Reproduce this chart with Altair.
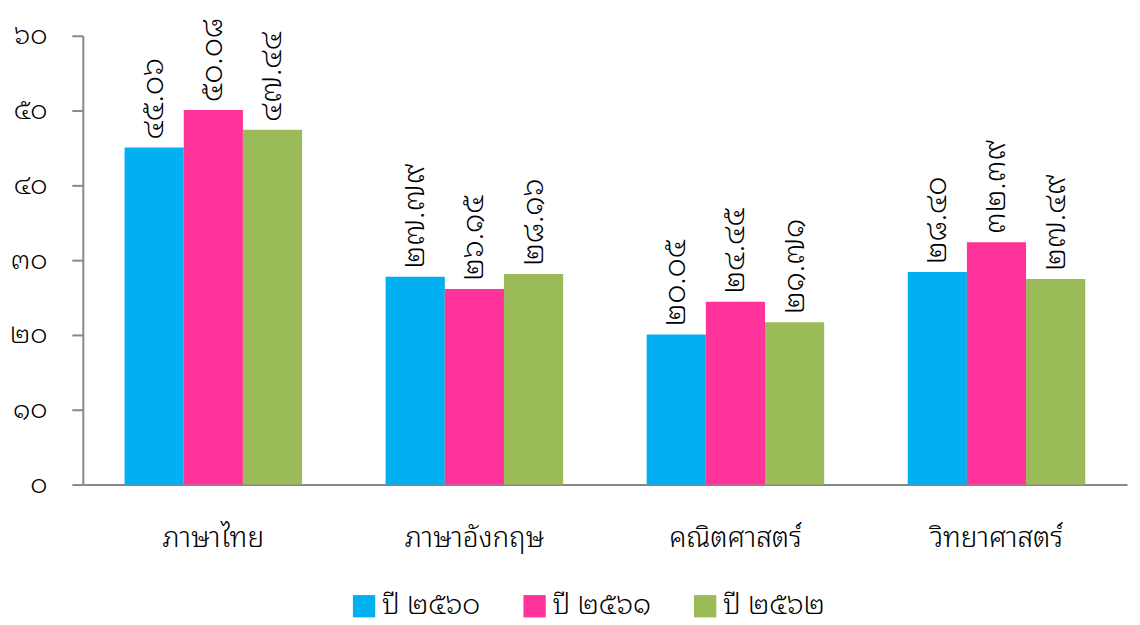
import altair as alt
import pandas as pd

subjects = ["ภาษาไทย", "ภาษาอังกฤษ", "คณิตศาสตร์", "วิทยาศาสตร์"]
years = ["ปี ๒๕๖๐", "ปี ๒๕๖๑", "ปี ๒๕๖๒"]
y2560 = [45.06, 27.79, 20.05, 28.40]
y2561 = [50.08, 26.15, 24.45, 32.39]
y2562 = [47.44, 28.16, 21.71, 27.49]
colors = ["#00B0F0", "#FF3399", "#9BBB59"]

thai_digits = str.maketrans("0123456789", "๐๑๒๓๔๕๖๗๘๙")

rows = []
for yr, vals in zip(years, [y2560, y2561, y2562]):
    for s, v in zip(subjects, vals):
        rows.append({"subject": s, "year": yr, "value": v,
                     "label": f"{v:.2f}".translate(thai_digits)})
df = pd.DataFrame(rows)

FONT = "Noto Sans Thai Looped, Noto Sans Thai, Loma, Garuda, Noto Sans"
thai_expr = "datum.label"
for d, t in zip("0123456789", "๐๑๒๓๔๕๖๗๘๙"):
    thai_expr = f"replace({thai_expr}, regexp('{d}', 'g'), '{t}')"

base = alt.Chart(df).encode(
    x=alt.X("subject:N", sort=subjects, title=None,
            scale=alt.Scale(paddingInner=0.32, paddingOuter=0.16),
            axis=alt.Axis(labelAngle=0, labelFontSize=28, labelFont=FONT,
                          labelFontWeight=300,
                          labelColor="#000", labelPadding=40, ticks=False,
                          domainColor="#888", domainWidth=2)),
    xOffset=alt.XOffset("year:N", sort=years),
    y=alt.Y("value:Q", title=None,
            scale=alt.Scale(domain=[0, 60]),
            axis=alt.Axis(values=[0, 10, 20, 30, 40, 50, 60], grid=False,
                          labelExpr=thai_expr, labelFontSize=27,
                          labelFont=FONT, labelColor="#000",
                          labelFontWeight=300,
                          tickSize=11, tickColor="#888", tickWidth=2,
                          domainColor="#888", domainWidth=2,
                          labelPadding=25)),
)

bars = base.mark_bar().encode(
    color=alt.Color("year:N", sort=years, title=None,
                    scale=alt.Scale(domain=years, range=colors),
                    legend=alt.Legend(orient="none", direction="horizontal",
                                      legendX=268, legendY=558,
                                      symbolType="square", symbolSize=500,
                                      symbolStrokeWidth=0,
                                      labelFontSize=28, labelFont=FONT,
                                      labelFontWeight=300,
                                      labelColor="#000", columnPadding=40))
)

labels = base.mark_text(angle=270, align="left", baseline="middle", dx=8,
                        fontSize=30, font=FONT, fontWeight=300,
                        color="#000").encode(
    text="label:N")

chart = (bars + labels).properties(
    width=1047, height=450,
    padding={"left": 75, "top": 27, "right": 5, "bottom": 140},
    autosize=alt.AutoSizeParams(type="none"),
).configure_view(stroke=None)

chart.save("out.html", embed_options={"renderer": "svg", "actions": False})
